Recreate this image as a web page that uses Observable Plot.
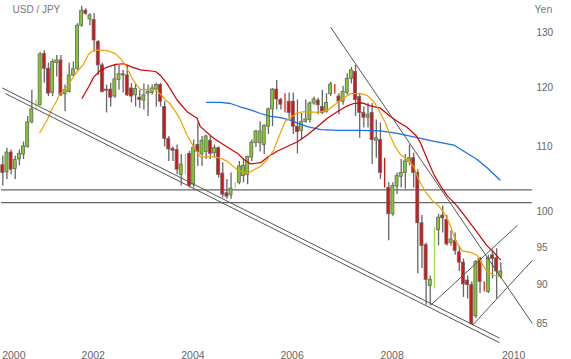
<!DOCTYPE html>
<html><head><meta charset="utf-8">
<script src="https://cdn.jsdelivr.net/npm/d3@7"></script>
<script src="https://cdn.jsdelivr.net/npm/@observablehq/plot@0.6"></script>
<style>body{margin:0;background:#fff;} svg{display:block;}</style>
</head><body><div id="chart"></div>
<script>
// Monthly candles (index 0..120), USD/JPY
const open  = [107.1,106.0,109.1,106.5,108.0,108.8,110.0,114.0,116.4,116.9,126.0,123.3,119.0,124.3,124.8,118.8,119.2,122.1,123.3,131.3,134.2,132.5,132.4,128.2,123.9,119.6,119.6,118.4,121.3,122.3,122.1,119.8,118.6,118.2,117.7,118.9,119.0,119.6,120.4,116.6,111.3,109.7,109.5,105.6,105.6,108.9,104.1,110.3,108.8,109.2,111.0,109.0,109.8,105.8,102.8,102.5,103.5,104.4,105.4,105.6,108.3,110.6,110.6,110.3,113.3,116.2,119.6,117.8,118.9,117.5,117.5,113.3,112.6,114.1,114.4,117.2,117.7,116.6,115.7,118.8,120.5,118.4,117.5,119.0,121.5,122.7,118.3,115.6,114.8,115.6,111.0,111.1,108.2,103.6,99.7,103.8,105.3,105.9,107.6,108.2,105.9,98.4,95.3,89.8,89.4,97.4,99.5,98.9,95.6,95.9,94.3,92.9,90.5,89.9,85.9,93.4,90.3,89.0,93.9,93.5,91.0];
const high  = [108.5,109.8,109.5,108.5,109.5,110.8,115.0,119.5,117.8,126.3,126.6,124.3,125.0,125.7,125.7,120.4,124.3,124.5,131.7,135.1,134.6,133.6,133.6,128.5,124.3,120.4,120.7,123.9,123.9,123.0,123.9,120.7,120.6,119.5,120.6,120.4,120.4,120.7,120.7,117.5,111.7,110.0,110.3,108.8,108.8,109.3,111.1,113.9,111.7,111.9,111.7,110.3,110.0,107.5,104.9,105.9,104.4,107.7,108.0,108.5,111.1,112.7,114.1,113.6,116.4,119.8,121.2,118.1,118.9,119.0,119.0,117.8,115.5,117.8,117.5,118.3,118.1,119.5,118.9,120.9,120.5,118.9,120.2,122.4,123.5,123.9,118.9,116.6,117.2,117.2,114.4,113.9,108.2,104.4,104.4,105.9,108.0,108.8,110.3,109.0,106.4,99.5,95.6,91.1,97.8,99.7,100.9,99.5,97.3,97.0,95.2,93.4,91.1,90.3,93.2,93.6,90.3,93.9,94.6,94.8,92.9];
const low   = [103.9,104.9,105.6,104.9,107.0,108.0,109.8,113.8,116.1,116.8,120.7,118.4,118.4,121.8,118.4,115.8,119.0,121.8,123.0,131.0,133.3,131.3,126.3,122.1,119.0,115.6,116.6,118.1,119.5,119.0,118.4,117.3,116.6,116.4,116.1,115.0,118.6,116.6,116.6,110.0,107.7,107.7,105.6,103.9,105.6,103.6,103.6,106.9,106.9,108.0,108.0,108.3,105.1,102.1,101.9,101.9,103.5,104.1,104.4,104.1,107.7,109.9,109.2,108.8,112.0,113.3,116.1,116.1,115.6,114.7,112.0,108.9,111.1,113.9,113.9,116.9,115.3,115.3,115.6,118.4,118.8,115.3,116.9,118.6,120.6,115.0,111.4,113.1,113.1,107.2,108.2,104.9,103.6,95.9,99.4,102.6,103.6,103.4,107.0,103.6,91.4,92.1,87.3,87.3,89.4,95.2,97.0,95.2,95.2,93.9,91.7,88.3,88.1,84.8,85.6,88.8,89.0,88.8,90.7,88.1,90.7];
const close = [105.9,109.1,106.4,107.9,108.9,110.1,114.0,116.2,117.1,125.9,123.3,118.9,124.5,124.8,118.6,119.5,122.1,123.2,131.3,134.2,133.6,133.3,128.5,123.9,119.2,119.4,118.2,121.4,122.3,122.1,118.6,118.4,119.7,117.8,118.6,119.2,119.8,120.4,117.5,111.3,109.6,109.4,106.4,107.2,108.8,103.9,109.9,109.2,111.0,111.7,108.9,109.8,105.6,102.6,102.3,103.5,104.4,106.9,107.0,108.4,110.7,112.5,112.5,113.4,116.2,119.6,117.9,117.0,115.6,115.6,113.3,112.4,114.1,114.5,117.2,117.9,116.9,115.6,117.3,120.5,118.8,117.5,119.2,121.5,123.0,117.8,115.6,114.8,115.3,111.1,111.4,105.9,103.6,99.7,103.9,105.4,105.9,107.7,108.2,105.9,98.4,95.2,90.6,90.6,97.8,99.2,99.1,95.4,96.1,94.5,92.9,90.0,89.9,84.9,93.0,90.3,89.0,93.5,93.4,91.7,91.7];
// candles that the original draws as a one-pixel body
const thinIdx = [8,44,56,68,80,92,104,116];

// moving averages (x = candle index, y = yen)
const maShortI = [8.9,10.7,11.5,13.1,13.5,15.5,17.5,19.5,20.7,21.9,23.5,25.2,27.2,28.4,29.6,30.8,32.0,33.2,35.2,36.8,38.0,39.2,40.4,42.0,42.8,44.4,46.0,47.6,50.8,52.5,54.1,56.5,58.9,60.5,62.1,63.7,65.3,66.9,68.1,69.3,70.9,72.5,75.8,78.2,79.8,81.4,83.8,86.2,87.8,89.4,90.6,92.2,93.4,94.6,95.8,97.4,99.0,100.2,101.8,103.5,105.1,106.7,107.9,109.1,110.7,112.7,114.3,115.5,116.7,118.3,119.9];
const maShortP = [112.3,114.4,115.8,117.8,118.6,120.1,122.4,124.2,126.0,126.7,126.7,126.6,126.0,125.1,123.9,122.1,120.6,119.6,119.6,119.6,118.8,117.8,117.1,115.4,114.4,111.9,110.0,108.4,108.4,108.2,107.7,106.4,105.8,106.4,106.9,108.0,109.5,112.3,114.2,114.8,115.6,115.8,115.7,116.0,116.9,117.8,118.9,118.9,118.6,117.5,116.1,113.9,111.7,110.0,108.8,108.0,106.9,104.9,103.1,101.7,100.9,99.5,98.0,95.9,94.5,94.3,93.9,92.7,91.7,91.2,91.0];
const maMidI = [19.1,20.7,21.9,23.5,25.2,27.2,29.2,31.2,33.2,36.8,38.0,39.6,42.0,44.4,46.8,47.6,50.8,53.3,56.5,58.1,59.7,62.1,64.1,66.1,69.3,70.9,73.3,75.8,78.2,80.6,83.0,84.6,86.6,88.6,91.0,93.4,95.0,97.4,99.5,100.7,102.3,103.9,105.5,107.1,109.5,111.9,114.3,116.7,118.3,119.9];
const maMidP = [118.1,120.1,121.8,123.0,123.6,124.1,124.2,123.6,123.1,122.8,122.1,120.6,117.8,115.8,114.7,113.3,111.4,110.3,109.0,108.0,107.3,107.5,108.5,109.3,110.3,110.8,111.9,113.3,114.7,115.8,116.8,117.2,117.3,116.8,116.4,115.0,114.2,113.2,111.9,110.6,108.0,105.6,103.9,102.4,100.9,99.0,97.1,95.2,94.3,93.3];
const maLongI = [49.1,52.5,54.9,57.3,59.7,62.1,64.5,66.9,69.3,71.0,73.4,76.6,80.7,86.2,91.0,95.0,99.9,103.1,108.7,111.1,114.3,116.7,119.8];
const maLongP = [117.4,117.4,117.2,116.6,116.1,115.5,115.0,114.8,114.4,113.9,113.3,112.8,112.7,112.7,112.6,112.2,111.5,111.0,110.3,109.3,108.0,106.7,104.8];

// support levels and trend lines (x = candle index, y = yen)
const levels = [103.3, 101.4];
const trendX1 = [-0.15, 0.65, 79.0, 103.1, 113.2];
const trendY1 = [119.9, 118.9, 131.0, 87.3, 84.8];
const trendX2 = [119.7, 119.7, 127.6, 124.0, 127.6];
const trendY2 = [83.2, 82.65, 85.0, 98.1, 93.2];

const yTicks = [85, 90, 95, 100, 110, 120, 130];
const xTickLabels = ["2000", "2002", "2004", "2006", "2008", "2010"];
const xTickAt = [2.65, 21.8, 45.8, 69.7, 93.8, 123.1];

const candles = open.map((o, i) => ({i, o, h: high[i], l: low[i], c: close[i], up: close[i] >= o, thin: thinIdx.includes(i)}));
const normal = candles.filter(d => !d.thin);
const thin = candles.filter(d => d.thin);
const GREEN = "#80cc22", RED = "#dd1111", LGREEN = "#9ade46";

const chart = Plot.plot({
  width: 571, height: 359,
  marginLeft: 0, marginTop: 0, marginBottom: 0, marginRight: 36,
  style: {fontFamily: "Arial, 'Liberation Sans', sans-serif", fontSize: "10px", background: "#fff"},
  x: {type: "linear", domain: [0, 120], range: [2.3, 500.3], axis: null},
  y: {type: "log", domain: [85, 130], range: [323, 32], axis: null},
  marks: [
    Plot.ruleY(levels, {x1: -0.3, x2: 127.6, stroke: "#666", strokeWidth: 1.2}),
    Plot.ruleX(normal, {x: "i", y1: "l", y2: "h", stroke: "#666", strokeWidth: 1.3}),
    Plot.rect(normal, {x1: d => d.i - 0.36, x2: d => d.i + 0.36, y1: "o", y2: "c",
      fill: d => d.up ? GREEN : RED, stroke: "#666", strokeWidth: 0.8}),
    Plot.ruleX(thin, {x: "i", y1: "l", y2: "h", stroke: d => d.up ? LGREEN : RED, strokeWidth: 1.2}),
    Plot.line(maLongP, {x: (d, k) => maLongI[k], y: d => d, stroke: "#1a6ee6", strokeWidth: 1.3}),
    Plot.line(maMidP, {x: (d, k) => maMidI[k], y: d => d, stroke: "#cc0000", strokeWidth: 1.2}),
    Plot.line(maShortP, {x: (d, k) => maShortI[k], y: d => d, stroke: "#f0a000", strokeWidth: 1.2}),
    Plot.link(trendX1, {x1: d => d, y1: (d, k) => trendY1[k], x2: (d, k) => trendX2[k], y2: (d, k) => trendY2[k],
      stroke: "#555", strokeWidth: 1}),
    Plot.text(yTicks, {y: d => d, frameAnchor: "right", textAnchor: "start", dx: 1, text: d => String(d),
      fill: "#666", fontSize: 10}),
    Plot.text(xTickLabels, {x: (d, k) => xTickAt[k], frameAnchor: "bottom", lineAnchor: "bottom", dy: -1,
      fill: "#666", fontSize: 10.5}),
    Plot.text(["USD / JPY"], {frameAnchor: "top-left", textAnchor: "start", lineAnchor: "middle", dx: 12, dy: 9,
      fill: "#777", fontSize: 10}),
    Plot.text(["Yen"], {frameAnchor: "top-right", textAnchor: "start", lineAnchor: "middle", dx: -1, dy: 9,
      fill: "#777", fontSize: 10.5})
  ]
});
document.getElementById("chart").appendChild(chart);
</script>
</body></html>
